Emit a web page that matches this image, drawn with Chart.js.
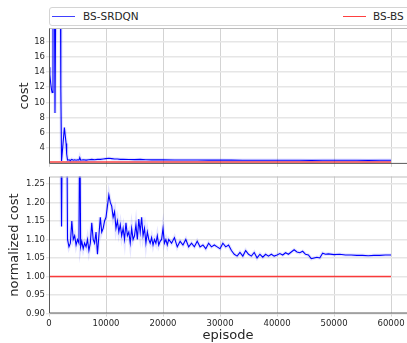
<!DOCTYPE html>
<html>
<head>
<meta charset="utf-8">
<script src="https://cdn.jsdelivr.net/npm/chart.js@4.4.0/dist/chart.umd.min.js"></script>
<style>
  body { margin: 0; background: #fff; width: 407px; height: 343px; overflow: hidden; position: relative; font-family: "DejaVu Sans", sans-serif; }
  #costChart { position: absolute; left: 0; top: 0; }
  #normChart { position: absolute; left: 0; top: 170px; }
  .legend { position: absolute; left: 49px; top: 7px; width: 380px; height: 17px; border: 1px solid #d4d4d4; border-radius: 3px; background: #fff; }
  .legend .swatch { position: absolute; top: 8px; width: 23px; height: 0; border-top: 1.5px solid; }
  .legend .label { position: absolute; top: 2px; font-size: 10.5px; color: #262626; line-height: 13px; }
</style>
</head>
<body>
<div class="legend">
  <div class="swatch" style="left:2px; border-color:rgba(0,0,255,0.75)"></div>
  <div class="label" style="left:33px">BS-SRDQN</div>
  <div class="swatch" style="left:293px; border-color:rgba(255,0,0,0.75)"></div>
  <div class="label" style="left:323px">BS-BS</div>
</div>
<canvas id="costChart" width="407" height="170"></canvas>
<canvas id="normChart" width="407" height="173"></canvas>
<script>
const xTicks = [0, 10000, 20000, 30000, 40000, 50000, 60000];
const costTicks = [4, 6, 8, 10, 12, 14, 16, 18];
const normTicks = [0.90, 0.95, 1.00, 1.05, 1.10, 1.15, 1.20, 1.25];

// BS-SRDQN, cost
const costEpisodes = [0, 150, 300, 450, 550, 700, 950, 1050, 1200, 2000, 2050, 2100, 2200, 2450, 2700, 2850, 3000, 3100, 3250,
  3500, 3750, 4000, 4250, 4500, 4750, 5000, 5250, 5400, 5550, 6000, 6500, 7000, 7500, 8000, 8500, 9000, 9500,
  10000, 10500, 11000, 11500, 12000, 12500, 13000, 14000, 15000, 16000, 17000, 18000, 19000, 20000, 22000, 24000,
  26000, 28000, 30000, 32000, 34000, 36000, 38000, 40000, 42000, 44000, 46000, 48000, 50000, 52000, 54000, 56000, 58000, 60000];
const costSrdqn = [14.6, 13.6, 12.5, 11.6, 11.3, 25, 25, 8.6, 25, 25, 18.7, 11.8, 2.3, 4.5, 6.7, 5.6, 4.6, 3.2, 2.4,
  2.45, 2.35, 2.5, 2.4, 2.45, 2.4, 2.45, 2.4, 2.75, 2.4, 2.45, 2.4, 2.45, 2.5, 2.45, 2.5, 2.5, 2.55,
  2.6, 2.65, 2.6, 2.55, 2.55, 2.5, 2.5, 2.48, 2.47, 2.5, 2.45, 2.44, 2.45, 2.44, 2.43, 2.42,
  2.42, 2.41, 2.41, 2.4, 2.39, 2.38, 2.38, 2.38, 2.39, 2.39, 2.37, 2.38, 2.38, 2.38, 2.38, 2.37, 2.38, 2.38];

// BS-BS baseline
const bsEpisodes = [0, 60000];
const costBs = [2.15, 2.15];
const normBs = [1.0, 1.0];

// BS-SRDQN, normalized cost
const normEpisodes = [0, 1000, 2000, 2200, 2350, 3100, 3250, 3500, 3750, 4000, 4250, 4500, 4750, 5000, 5250, 5400, 5550, 5750,
  6000, 6250, 6500, 6750, 7000, 7250, 7500, 7750, 8000, 8250, 8500, 8750, 9000, 9250, 9500, 9750,
  10000, 10250, 10500, 10750, 11000, 11250, 11500, 11750, 12000, 12250, 12500, 12750, 13000, 13250, 13500, 13750,
  14000, 14250, 14500, 14750, 15000, 15250, 15500, 15750, 16000, 16250, 16500, 16750, 17000, 17250, 17500, 17750,
  18000, 18250, 18500, 18750, 19000, 19250, 19500, 19750, 20000, 20250, 20500, 20750, 21000, 21500, 22000, 22500,
  23000, 23500, 24000, 24500, 25000, 25500, 26000, 26500, 27000, 27500, 28000, 28500, 29000, 29500, 30000, 30500,
  31000, 31500, 32000, 32500, 33000, 33500, 34000, 34500, 35000, 35500, 36000, 36500, 37000, 37500, 38000, 38500,
  39000, 39500, 40000, 40500, 41000, 41500, 42000, 42500, 43000, 43500, 44000, 44500, 45000, 45500, 46000, 46500,
  47000, 47500, 48000, 48500, 49000, 50000, 51000, 52000, 53000, 54000, 55000, 56000, 57000, 58000, 59000, 60000];
const normSrdqn = [1.9, 1.7, 1.6, 1.135, 1.45, 1.5, 1.10, 1.08, 1.09, 1.15, 1.10, 1.11, 1.085, 1.10, 1.09, 1.45, 1.08, 1.095,
  1.075, 1.09, 1.08, 1.10, 1.07, 1.09, 1.145, 1.10, 1.09, 1.12, 1.06, 1.11, 1.16, 1.12, 1.13, 1.15,
  1.16, 1.19, 1.22, 1.20, 1.19, 1.16, 1.175, 1.13, 1.15, 1.12, 1.14, 1.11, 1.13, 1.10, 1.145, 1.11,
  1.12, 1.09, 1.13, 1.10, 1.11, 1.14, 1.10, 1.155, 1.12, 1.16, 1.11, 1.13, 1.09, 1.12, 1.10, 1.09,
  1.105, 1.085, 1.10, 1.09, 1.11, 1.085, 1.095, 1.10, 1.13, 1.09, 1.10, 1.085, 1.10, 1.09, 1.105, 1.08,
  1.095, 1.085, 1.10, 1.08, 1.09, 1.08, 1.095, 1.08, 1.085, 1.075, 1.09, 1.08, 1.085, 1.08, 1.075, 1.09,
  1.08, 1.085, 1.07, 1.06, 1.055, 1.065, 1.055, 1.07, 1.06, 1.055, 1.065, 1.05, 1.06, 1.052, 1.06, 1.055,
  1.06, 1.055, 1.058, 1.062, 1.058, 1.064, 1.06, 1.066, 1.072, 1.066, 1.064, 1.068, 1.06, 1.058, 1.048, 1.05,
  1.052, 1.05, 1.063, 1.06, 1.061, 1.059, 1.06, 1.058, 1.058, 1.057, 1.057, 1.056, 1.057, 1.057, 1.058, 1.058];

const tickFont = { family: "DejaVu Sans", size: 8.5 };
const titleFont = { family: "DejaVu Sans", size: 13 };
const textColor = "#262626";

function points(xs, ys) {
  return xs.map((x, i) => ({ x: x, y: ys[i] }));
}

// spines: dark on left/bottom, light on top
const framePlugin = {
  id: "frame",
  afterDatasetsDraw(chart) {
    const { ctx, chartArea } = chart;
    const l = chartArea.left + 0.5, t = chartArea.top + 0.5, b = chartArea.bottom - 0.5;
    ctx.save();
    ctx.lineWidth = 1;
    ctx.strokeStyle = "#bdbdbd";
    ctx.beginPath();
    ctx.moveTo(l, t);
    ctx.lineTo(chartArea.right, t);
    ctx.stroke();
    ctx.strokeStyle = "#5a5a5a";
    ctx.beginPath();
    ctx.moveTo(l, t);
    ctx.lineTo(l, b);
    ctx.lineTo(chartArea.right, b);
    ctx.stroke();
    ctx.restore();
  }
};

function makeChart(canvasId, srdqnX, srdqnY, bsY, yTicks, yMin, yMax, yTitle, yTitlePad, isBottom) {
  const ctx = document.getElementById(canvasId).getContext("2d");
  return new Chart(ctx, {
    type: "line",
    data: {
      datasets: [
        { data: points(srdqnX, srdqnY), borderColor: "rgba(0,0,255,0.1)", borderWidth: 3.5, pointRadius: 0, tension: 0 },
        { data: points(srdqnX, srdqnY), borderColor: "#0000ff", borderWidth: 1.1, pointRadius: 0, tension: 0 },
        { data: points(bsEpisodes, bsY), borderColor: "rgba(255,0,0,0.75)", borderWidth: 1.5, pointRadius: 0, tension: 0 }
      ]
    },
    options: {
      responsive: false,
      animation: false,
      devicePixelRatio: 1,
      layout: { padding: { top: isBottom ? 6.5 : 28, right: 0, left: 0, bottom: 0 } },
      plugins: { legend: { display: false }, tooltip: { enabled: false } },
      scales: {
        x: {
          type: "linear",
          min: 0,
          max: 62800,
          afterBuildTicks: (scale) => { scale.ticks = xTicks.map(v => ({ value: v })); },
          afterFit: (scale) => { scale.height = isBottom ? 29.5 : 3; },
          grid: { color: "#c8c8c8", lineWidth: 0.8, tickLength: 3, drawTicks: true },
          border: { display: false },
          ticks: { display: isBottom, font: tickFont, color: textColor, padding: 2, maxRotation: 0, callback: (v) => String(v) },
          title: { display: isBottom, text: "episode", font: titleFont, color: textColor, padding: { top: 0, bottom: 0 } }
        },
        y: {
          min: yMin,
          max: yMax,
          afterBuildTicks: (scale) => { scale.ticks = yTicks.map(v => ({ value: v })); },
          afterFit: (scale) => { scale.width = 49; },
          grid: { color: "#e6e6e6", lineWidth: 1.4, tickLength: 3, drawTicks: true },
          border: { display: false },
          ticks: {
            font: tickFont, color: textColor, padding: 1,
            callback: (v) => isBottom ? v.toFixed(2) : String(v)
          },
          title: { display: true, text: yTitle, font: titleFont, color: textColor, padding: { top: yTitlePad, bottom: 0 } }
        }
      }
    },
    plugins: [framePlugin]
  });
}

makeChart("costChart", costEpisodes, costSrdqn, costBs, costTicks, 1.91, 19.76, "cost", 16.5, false);
makeChart("normChart", normEpisodes, normSrdqn, normBs, normTicks, 0.90, 1.27, "normalized cost", 7, true);
</script>
</body>
</html>
